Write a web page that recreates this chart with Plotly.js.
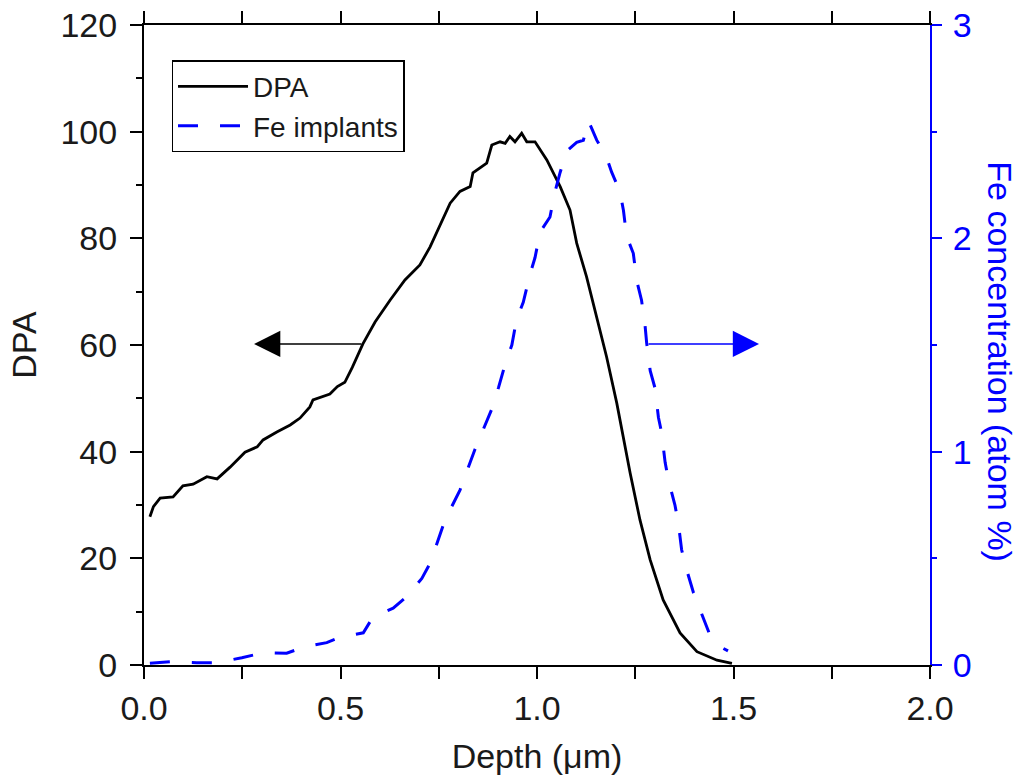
<!DOCTYPE html>
<html>
<head>
<meta charset="utf-8">
<script src="https://cdn.plot.ly/plotly-3.0.1.min.js"></script>
<style>html,body{margin:0;padding:0;background:#fff}#chart{width:1026px;height:775px}</style>
</head>
<body>
<div id="chart"></div>
<script>
// DPA profile (left axis)
var dpaDepth = [0.015,0.024,0.041,0.074,0.099,0.125,0.160,0.186,0.219,0.257,0.288,0.303,0.338,0.372,0.397,0.422,0.430,0.473,0.492,0.511,0.530,0.557,0.588,0.626,0.664,0.702,0.728,0.753,0.779,0.804,0.830,0.837,0.872,0.885,0.906,0.919,0.931,0.944,0.961,0.974,0.995,1.025,1.059,1.084,1.101,1.126,1.152,1.177,1.203,1.237,1.262,1.288,1.321,1.364,1.407,1.458,1.496];
var dpaValues = [27.8,29.7,31.3,31.5,33.6,33.9,35.3,34.9,37.1,39.9,40.9,42.2,43.7,45.0,46.3,48.4,49.7,50.8,52.2,53.0,55.8,60.2,64.3,68.4,72.2,75.0,78.4,82.5,86.6,88.8,89.7,92.3,94.1,97.5,98.1,97.8,99.1,98.1,99.7,98.1,98.1,94.7,89.7,85.3,79.1,72.8,65.3,57.8,49.1,36.0,27.2,19.7,12.2,6.0,2.5,0.9,0.3];

// Fe implant concentration (right axis, atom %)
var feDepth = [0.015,0.066,0.134,0.185,0.249,0.304,0.363,0.405,0.465,0.499,0.558,0.583,0.634,0.664,0.707,0.728,0.766,0.804,0.842,0.885,0.902,0.919,0.936,0.948,0.965,0.982,0.995,1.008,1.033,1.046,1.059,1.076,1.101,1.118,1.131,1.152,1.177,1.190,1.211,1.220,1.228,1.245,1.254,1.266,1.275,1.279,1.288,1.300,1.309,1.317,1.326,1.334,1.351,1.360,1.368,1.381,1.398,1.419,1.440,1.474,1.486];
var feValues = [0.008,0.015,0.011,0.011,0.034,0.058,0.055,0.083,0.105,0.130,0.151,0.226,0.266,0.313,0.406,0.477,0.680,0.820,1.010,1.200,1.300,1.410,1.500,1.620,1.700,1.830,1.910,2.030,2.100,2.220,2.310,2.410,2.450,2.460,2.550,2.460,2.380,2.310,2.220,2.130,2.010,1.930,1.800,1.710,1.590,1.510,1.380,1.300,1.160,1.090,0.950,0.870,0.750,0.660,0.540,0.445,0.340,0.240,0.140,0.078,0.066];

var seriesNames = ["DPA", "Fe implants"];
var xTitle = "Depth (\u03bcm)";
var yTitle = "DPA";
var y2Title = "Fe concentration (atom %)";

var FONT = "Liberation Sans, Arial, sans-serif";
var TXT = "#1a1a1a";

var traces = [
  {x: dpaDepth, y: dpaValues, name: seriesNames[0], type: "scatter", mode: "lines",
   line: {color: "#000000", width: 2.8}, xaxis: "x", yaxis: "y"},
  {x: feDepth, y: feValues, name: seriesNames[1], type: "scatter", mode: "lines",
   line: {color: "#0000ff", width: 3, dash: "20px,22px"}, xaxis: "x", yaxis: "y2"}
];

var layout = {
  width: 1026, height: 775,
  margin: {l: 144, r: 96, t: 25, b: 110},
  paper_bgcolor: "#ffffff", plot_bgcolor: "#ffffff",
  font: {family: FONT, color: TXT, size: 34},
  showlegend: true,
  legend: {x: 0.035, y: 0.945, xanchor: "left", yanchor: "top",
           bgcolor: "#ffffff", bordercolor: "#000000", borderwidth: 1.5,
           itemwidth: 70,
           font: {family: FONT, size: 28, color: TXT}, tracegroupgap: 0},
  xaxis: {range: [0, 2], dtick: 0.5, tick0: 0, tickformat: ".1f",
          ticks: "outside", ticklen: 12, tickwidth: 2, tickcolor: "#000",
          minor: {ticks: "outside", ticklen: 6, tickwidth: 2, dtick: 0.25, tickcolor: "#000"},
          showline: true, linewidth: 2, linecolor: "#000", mirror: "allticks",
          showgrid: false, zeroline: false,
          tickfont: {size: 34, color: TXT, family: FONT},
          title: {text: xTitle, font: {size: 34, color: TXT, family: FONT}, standoff: 18}},
  yaxis: {range: [0, 120], dtick: 20, tick0: 0,
          ticks: "outside", ticklen: 12, tickwidth: 2, tickcolor: "#000",
          minor: {ticks: "outside", ticklen: 6, tickwidth: 2, dtick: 10, tickcolor: "#000"},
          showline: true, linewidth: 2, linecolor: "#000", showgrid: false, zeroline: false,
          ticklabelstandoff: 6,
          tickfont: {size: 34, color: TXT, family: FONT},
          title: {text: yTitle, font: {size: 34, color: TXT, family: FONT}, standoff: 14}},
  yaxis2: {overlaying: "y", side: "right", anchor: "x", range: [0, 3], dtick: 1, tick0: 0,
           ticks: "outside", ticklen: 10, tickwidth: 2, tickcolor: "#0000ff",
           minor: {ticks: "outside", ticklen: 5, tickwidth: 2, dtick: 0.5, tickcolor: "#0000ff"},
           showline: true, linewidth: 2, linecolor: "#0000ff", showgrid: false, zeroline: false,
           ticklabelstandoff: 4,
           tickfont: {size: 34, color: "#0000ff", family: FONT}},
  annotations: [
    {xref: "paper", yref: "paper", x: 1.089, y: 0.473, text: y2Title, textangle: 90,
     showarrow: false, font: {size: 34, color: "#0000ff", family: FONT},
     xanchor: "center", yanchor: "middle"},
    {xref: "x", yref: "y", axref: "x", ayref: "y", x: 0.28, y: 60.2, ax: 0.557, ay: 60.2,
     text: "", showarrow: true, arrowhead: 2, arrowsize: 3.5, arrowwidth: 1.5, arrowcolor: "#000"},
    {xref: "x", yref: "y2", axref: "x", ayref: "y2", x: 1.565, y: 1.505, ax: 1.28, ay: 1.505,
     text: "", showarrow: true, arrowhead: 2, arrowsize: 3.5, arrowwidth: 1.5, arrowcolor: "#0000ff"}
  ]
};

Plotly.newPlot("chart", traces, layout, {displayModeBar: false, staticPlot: true});
</script>
</body>
</html>
